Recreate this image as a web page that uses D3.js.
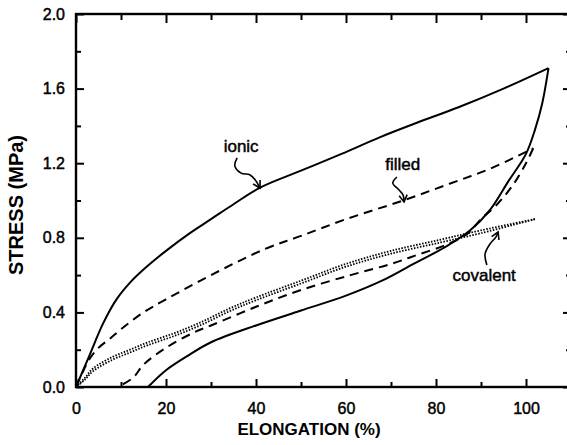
<!DOCTYPE html>
<html>
<head>
<meta charset="utf-8">
<script src="https://cdn.jsdelivr.net/npm/d3@7"></script>
<style>
  html, body { margin: 0; padding: 0; background: #fff; }
  svg { display: block; }
  text { font-family: "Liberation Sans", Arial, Helvetica, sans-serif; fill: #000; }
</style>
</head>
<body>
<svg id="chart" width="567" height="445"></svg>
<script>
// Stress–elongation hysteresis loops: [elongation %, stress MPa]
const ionicLoading = [[0,0],[3,0.17],[6,0.34],[9,0.47],[12,0.56],[15,0.63],[20,0.73],[25,0.82],[30,0.90],[35,0.98],[41,1.07],[50,1.16],[59,1.25],[67.6,1.34],[75,1.41],[85,1.50],[95,1.60],[105,1.71]];
const ionicUnloading = [[105,1.71],[103.6,1.52],[102,1.38],[100,1.25],[96,1.10],[92,0.95],[87.6,0.84],[82,0.75],[75,0.66],[68,0.57],[60,0.49],[50,0.41],[40,0.33],[30,0.24],[25,0.17],[20,0.09],[16,0]];
const filledLoading = [[0,0],[1.5,0.08],[3,0.15],[5,0.21],[7.6,0.26],[10,0.31],[15,0.40],[20,0.47],[30,0.60],[42,0.74],[50,0.81],[60,0.90],[72.7,1.00],[83,1.09],[92,1.17],[101.6,1.28]];
const filledUnloading = [[101.6,1.28],[100,1.20],[97,1.08],[93.6,0.98],[90,0.90],[86.9,0.82],[82,0.76],[76,0.71],[70,0.66],[61,0.60],[50,0.52],[40,0.43],[30,0.33],[26,0.29],[20,0.21],[15,0.12],[12.7,0.05],[9.3,0]];
const covalentLoading = [[0,0],[2,0.05],[3.8,0.10],[8,0.16],[12,0.20],[16,0.24],[22,0.29],[28,0.35],[34,0.42],[40,0.48],[50,0.57],[60,0.66],[70,0.73],[81,0.79],[90,0.84],[102,0.90]];
const covalentUnloading = [[102,0.90],[90,0.825],[81,0.775],[70,0.715],[60,0.645],[50,0.555],[40,0.465],[34,0.405],[28,0.335],[22,0.275],[16,0.225],[12,0.185],[8,0.145],[3.8,0.085],[2,0.04],[0,0]];

// Axis ticks
const xMajorTicks = [0, 20, 40, 60, 80, 100];
const xMinorTicks = [10, 30, 50, 70, 90, 110];
const yMajorTicks = [0.0, 0.4, 0.8, 1.2, 1.6, 2.0];
const yMinorTicks = [0.2, 0.6, 1.0, 1.4, 1.8];
const xTitle = "ELONGATION (%)";
const yTitle = "STRESS (MPa)";

// Annotation labels, leaders end at the arrow tip on each curve
const labelNames = ["ionic", "filled", "covalent"];
const labelAnchors = [[36.7, 1.26], [72.6, 1.165], [90.7, 0.568]];
const labelLeaders = [
  [[35.8,1.228],[35.3,1.185],[36.7,1.147],[38.7,1.137],[40.0,1.105],[40.9,1.067]],
  [[71.3,1.126],[70.4,1.094],[71.8,1.056],[72.7,1.029],[72.9,0.992]],
  [[91.3,0.654],[90.9,0.713],[92.0,0.767],[93.3,0.804],[93.8,0.831]]
];

const svg = d3.select("#chart");
const x = d3.scaleLinear().domain([0, 110]).range([76, 571]);
const y = d3.scaleLinear().domain([0, 2]).range([387, 14]);

const line = d3.line().x(d => x(d[0])).y(d => y(d[1])).curve(d3.curveCatmullRom.alpha(0.5));

// Frame
svg.append("rect")
  .attr("x", x(0)).attr("y", y(2))
  .attr("width", x(110) - x(0)).attr("height", y(0) - y(2))
  .attr("fill", "none").attr("stroke", "#000").attr("stroke-width", 2.4);

function styleAxis(g) {
  g.select(".domain").remove();
  g.selectAll(".tick line").attr("stroke", "#000").attr("stroke-width", 2);
  g.selectAll(".tick text")
    .attr("font-size", 16)
    .attr("stroke", "#000").attr("stroke-width", 0.45);
}

// Bottom axis
svg.append("g").attr("transform", `translate(0,${y(0)})`)
  .call(d3.axisBottom(x).tickValues(xMajorTicks).tickSize(-8).tickPadding(16).tickFormat(d3.format("d")))
  .call(styleAxis);
svg.append("g").attr("transform", `translate(0,${y(0)})`)
  .call(d3.axisBottom(x).tickValues(xMinorTicks).tickSize(-5).tickFormat(""))
  .call(styleAxis);
// Top axis
svg.append("g").attr("transform", `translate(0,${y(2)})`)
  .call(d3.axisTop(x).tickValues(xMajorTicks).tickSize(-9).tickFormat(""))
  .call(styleAxis);
svg.append("g").attr("transform", `translate(0,${y(2)})`)
  .call(d3.axisTop(x).tickValues(xMinorTicks).tickSize(-6).tickFormat(""))
  .call(styleAxis);
// Left axis
svg.append("g").attr("transform", `translate(${x(0)},0)`)
  .call(d3.axisLeft(y).tickValues(yMajorTicks).tickSize(-8).tickPadding(11).tickFormat(d3.format(".1f")))
  .call(styleAxis);
svg.append("g").attr("transform", `translate(${x(0)},0)`)
  .call(d3.axisLeft(y).tickValues(yMinorTicks).tickSize(-5).tickFormat(""))
  .call(styleAxis);
// Right axis
svg.append("g").attr("transform", `translate(${x(110)},0)`)
  .call(d3.axisRight(y).tickValues(yMajorTicks).tickSize(-8).tickFormat(""))
  .call(styleAxis);
svg.append("g").attr("transform", `translate(${x(110)},0)`)
  .call(d3.axisRight(y).tickValues(yMinorTicks).tickSize(-5).tickFormat(""))
  .call(styleAxis);

// Axis titles
svg.append("text")
  .attr("x", 309).attr("y", 435)
  .attr("text-anchor", "middle")
  .attr("font-size", 17).attr("font-weight", "bold")
  .text(xTitle);
svg.append("text")
  .attr("transform", `translate(23,205) rotate(-90)`)
  .attr("text-anchor", "middle")
  .attr("font-size", 20).attr("font-weight", "bold")
  .text(yTitle);

// Curves
const curves = svg.append("g").attr("fill", "none").attr("stroke", "#000").attr("stroke-linejoin", "round");
[ionicLoading, ionicUnloading].forEach(d =>
  curves.append("path").attr("d", line(d)).attr("stroke-width", 2));
[filledLoading, filledUnloading].forEach(d =>
  curves.append("path").attr("d", line(d)).attr("stroke-width", 2).attr("stroke-dasharray", "9,6"));
[covalentLoading, covalentUnloading].forEach(d =>
  curves.append("path").attr("d", line(d)).attr("stroke-width", 1.8).attr("stroke-dasharray", "1.5,1.5"));

// Labels with squiggly leaders and open arrowheads
const leaderLine = d3.line().x(d => x(d[0])).y(d => y(d[1])).curve(d3.curveCatmullRom.alpha(0.5));
labelNames.forEach((name, i) => {
  svg.append("text")
    .attr("x", x(labelAnchors[i][0])).attr("y", y(labelAnchors[i][1]))
    .attr("text-anchor", "middle")
    .attr("font-size", 17)
    .attr("stroke", "#000").attr("stroke-width", 0.45)
    .text(name);
  const pts = labelLeaders[i];
  svg.append("path").attr("d", leaderLine(pts))
    .attr("fill", "none").attr("stroke", "#000").attr("stroke-width", 1.6);
  const tip = pts[pts.length - 1], prev = pts[pts.length - 2];
  const tx = x(tip[0]), ty = y(tip[1]);
  const ang = Math.atan2(ty - y(prev[1]), tx - x(prev[0]));
  const len = 8, spread = Math.PI / 6;
  const a1 = [tx - len * Math.cos(ang - spread), ty - len * Math.sin(ang - spread)];
  const a2 = [tx - len * Math.cos(ang + spread), ty - len * Math.sin(ang + spread)];
  svg.append("path")
    .attr("d", `M${a1[0]},${a1[1]}L${tx},${ty}L${a2[0]},${a2[1]}`)
    .attr("fill", "none").attr("stroke", "#000").attr("stroke-width", 1.6);
});
</script>
</body>
</html>
